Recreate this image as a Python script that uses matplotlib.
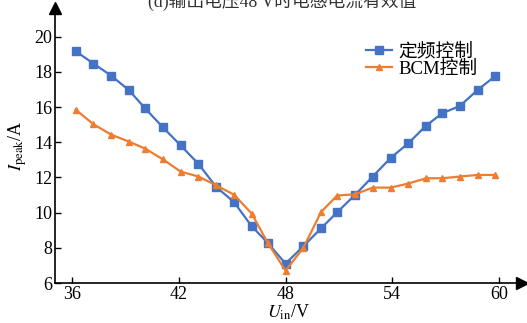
import matplotlib
matplotlib.use("Agg")
import matplotlib.pyplot as plt

plt.rcParams['font.family'] = ['Liberation Serif', 'Noto Sans CJK SC']
plt.rcParams['mathtext.fontset'] = 'stix'

u_in = [36.2, 37.2, 38.2, 39.2, 40.1, 41.1, 42.1, 43.1, 44.1, 45.1, 46.1, 47.0,
        48.0, 49.0, 50.0, 50.9, 51.9, 52.9, 53.9, 54.9, 55.9, 56.8, 57.8, 58.8, 59.8]
fixed_freq = [19.17, 18.47, 17.78, 16.95, 15.93, 14.85, 13.82, 12.77, 11.46, 10.6, 9.22, 8.28,
              7.1, 8.09, 9.11, 10.02, 11.0, 12.05, 13.1, 13.94, 14.94, 15.64, 16.06, 16.97, 17.77]
bcm = [15.85, 15.02, 14.43, 14.03, 13.64, 13.03, 12.33, 12.05, 11.55, 11.02, 9.94, 8.28,
       6.7, 8.0, 10.04, 10.97, 11.04, 11.42, 11.42, 11.65, 11.95, 11.95, 12.05, 12.14, 12.14]
series_names = ['定频控制', 'BCM控制']
x_ticks = [36, 42, 48, 54, 60]
y_ticks = [6, 8, 10, 12, 14, 16, 18, 20]
title = '(d)输出电压48 V时电感电流有效值'

fig = plt.figure(figsize=(5.27, 3.23), dpi=100)
ax = fig.add_axes([55/527, 40/323, 467/527, 275/323])
ax.plot(u_in, fixed_freq, color='#4472C4', marker='s', markersize=5.5, lw=1.6, label=series_names[0])
ax.plot(u_in, bcm, color='#ED7D31', marker='^', markersize=4, lw=1.6, label=series_names[1])

ax.set_xlim(35.04, 35.04 + 467/17.79)
ax.set_ylim(6, 6 + 275/17.6)
ax.set_xticks(x_ticks)
ax.set_yticks(y_ticks)
ax.tick_params(direction='in', labelsize=13, length=4, width=1, pad=2)
for s in ['top', 'right']:
    ax.spines[s].set_visible(False)
for s in ['left', 'bottom']:
    ax.spines[s].set_linewidth(1.2)
ax.plot([1], [0], marker='>', color='black', markersize=8, transform=ax.transAxes, clip_on=False)
ax.plot([0], [1], marker='^', color='black', markersize=8, transform=ax.transAxes, clip_on=False)

ax.set_xlabel(r'$U_{\mathrm{in}}$/V', fontsize=13, labelpad=0)
ax.set_ylabel(r'$I_{\mathrm{peak}}$/A', fontsize=13, labelpad=4)

leg = ax.legend(loc='upper left', bbox_to_anchor=(353/527, 1 - 30/323), bbox_transform=fig.transFigure,
                frameon=False, fontsize=13.5, handlelength=1.4, handletextpad=0.3,
                labelspacing=0.0, borderpad=0.2)

fig.text(282/527, 0.995, title, ha='center', va='center', fontsize=12.8, color='#333333')

fig.savefig('out.png', dpi=100)
